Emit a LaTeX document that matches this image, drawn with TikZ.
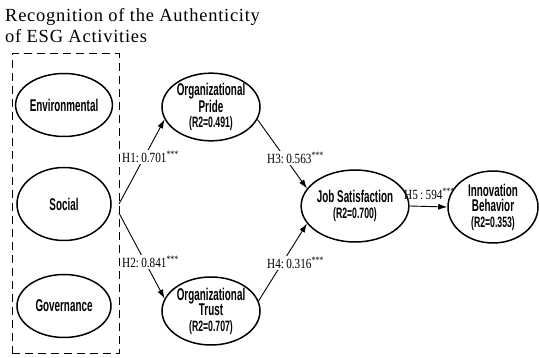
\documentclass[tikz,border=0pt]{standalone}
\usepackage{fontspec}
\setmainfont{Liberation Serif}
\newfontfamily\nodefont[FakeStretch=0.58]{Liberation Sans}
\newfontfamily\labfont[FakeStretch=0.8]{Liberation Serif}
\newfontfamily\titlefont[LetterSpace=4]{Liberation Serif}
\usetikzlibrary{shapes.geometric,arrows.meta}
\newcommand{\stars}{\textsuperscript{***}}
\begin{document}
\begin{tikzpicture}[x=1pt,y=-1pt,
  construct/.style={ellipse,draw,line width=1.5pt,inner sep=0pt,align=center,
    font=\nodefont\bfseries\fontsize{17}{15.5}\selectfont},
  patharrow/.style={line width=0.9pt,-{Latex[length=9pt,width=6pt]}},
  hlabel/.style={anchor=west,inner sep=1pt,fill=white,font=\labfont\fontsize{14}{14}\selectfont},
  titletext/.style={anchor=base west,inner sep=0pt,font=\titlefont\fontsize{18.5}{21}\selectfont}]
\useasboundingbox (0,0) rectangle (539,358);

\node[titletext] (t1) at (5,22) {Recognition of the Authenticity};
\node[titletext] (t2) at (5,43) {of ESG Activities};

\node[draw,dash pattern=on 8pt off 5pt,line width=1pt,minimum width=107pt,minimum height=300pt,inner sep=0pt] (esg) at (65.5,204) {};

\node[construct,minimum width=94pt,minimum height=63pt] (env) at (64,105) {Environmental};
\node[construct,minimum width=94pt,minimum height=73pt] (soc) at (64,204) {Social};
\node[construct,minimum width=94pt,minimum height=63pt] (gov) at (64,306) {Governance};

\node[construct,minimum width=98pt,minimum height=66pt] (pride) at (211,107) {Organizational\\Pride\\{\fontsize{15}{15.5}\selectfont (R2=0.491)}};
\node[construct,minimum width=98pt,minimum height=68pt] (trust) at (211,311) {Organizational\\Trust\\{\fontsize{15}{15.5}\selectfont (R2=0.707)}};
\node[construct,minimum width=94pt,minimum height=72pt] (job) at (355,206) {Job Satisfaction\\{\fontsize{15}{16}\selectfont (R2=0.700)}};
\node[construct,minimum width=90pt,minimum height=72pt] (inno) at (493,207) {Innovation\\Behavior\\{\fontsize{15}{15.5}\selectfont (R2=0.353)}};

\coordinate (h1s) at (119,204);
\coordinate (h2s) at (119,213);

\draw[patharrow] (h1s) -- (pride.195);
\draw[patharrow] (h2s) -- (trust.165);
\draw[patharrow] (pride.-15) -- (job.160);
\draw[patharrow] (trust.12) -- (job.200);
\draw[patharrow] (job.east) -- (inno.west);

\node[hlabel] (l1) at (121,157) {H1:\,0.701\stars};
\node[hlabel] (l2) at (121,262) {H2:\,0.841\stars};
\node[hlabel] (l3) at (266,158) {H3:\,0.563\stars};
\node[hlabel] (l4) at (266,263) {H4:\,0.316\stars};
\node[hlabel,anchor=base west,fill=none] (l5) at (403,200) {H5\,:\,594\stars};
\end{tikzpicture}
\end{document}
